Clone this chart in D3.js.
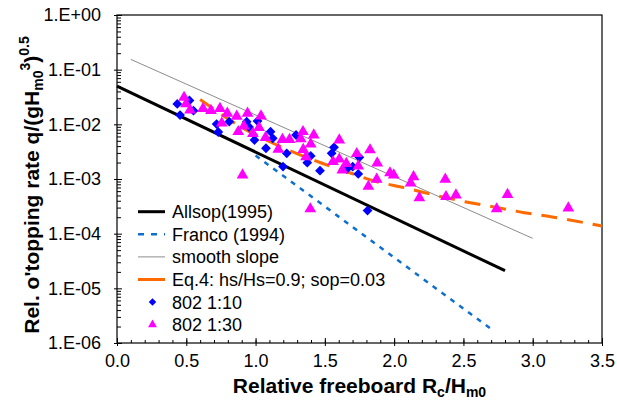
<!DOCTYPE html>
<html>
<head>
<meta charset="utf-8">
<script src="https://cdn.jsdelivr.net/npm/d3@7"></script>
<style>
  html, body { margin: 0; padding: 0; background: #fff; }
  svg { display: block; font-family: "Liberation Sans", Arial, sans-serif; }
</style>
</head>
<body>
<svg id="chart" width="617" height="409"></svg>
<script>
// series
const allsopX = [0.0, 2.8];
const allsopQ = [0.05, 2.1e-5];
const francoX = [1.0, 2.7];
const francoQ = [2.7e-3, 1.8e-6];
const smoothX = [0.1, 3.0];
const smoothQ = [0.154, 8.2e-5];
const eq4X = [0.6, 0.9, 1.18, 1.48, 1.68, 1.85, 2.09, 2.31, 2.51, 2.73, 2.94, 3.15, 3.5];
const eq4Q = [0.0285, 0.0088, 0.0039, 0.00194, 0.0013, 0.00093, 0.00068, 0.000495, 0.000385, 0.000304, 0.000242, 0.0002, 0.000138];

const s10X = [0.435, 0.455, 0.523, 0.552, 0.719, 0.731, 0.81, 0.936, 0.953, 1.014, 0.992, 1.108, 1.124, 1.075,
  1.292, 1.225, 1.198, 1.398, 1.373, 1.465, 1.566, 1.549, 1.701, 1.749, 1.658, 1.741, 1.808];
const s10Q = [0.0236, 0.0148, 0.0273, 0.0178, 0.0101, 0.00724, 0.0112, 0.0112, 0.00894, 0.0115, 0.00517, 0.00733, 0.00555, 0.00365,
  0.00638, 0.00295, 0.00169, 0.00264, 0.00199, 0.00142, 0.0038, 0.00295, 0.00168, 0.00249, 0.00151, 0.00124, 0.000265];

const s30X = [0.484, 0.498, 0.527, 0.621, 0.678, 0.743, 0.796, 0.756, 0.864, 0.942, 1.039, 0.875, 0.916, 0.981,
  1.025, 1.072, 1.164, 1.194, 1.245, 0.906, 1.342, 1.42, 1.326, 1.398, 1.344, 1.364, 1.604, 1.559, 1.604, 1.655,
  1.626, 1.73, 1.741, 1.826, 1.878, 1.874, 1.814, 1.97, 1.997, 2.14, 2.119, 2.182, 2.369, 2.374, 2.446, 2.74,
  2.818, 3.257, 1.395];
const s30Q = [0.031, 0.0236, 0.0183, 0.0195, 0.0179, 0.0195, 0.0159, 0.0105, 0.014, 0.0159, 0.0142, 0.00733, 0.00933, 0.0068,
  0.00875, 0.00574, 0.00349, 0.00528, 0.00528, 0.00118, 0.00733, 0.00638, 0.00544, 0.00434, 0.00344, 0.00253, 0.00517, 0.00207, 0.0023, 0.00191,
  0.00146, 0.0029, 0.00173, 0.0034, 0.00196, 0.00099, 0.00073, 0.00129, 0.00118, 0.0011, 0.000845, 0.000453, 0.00099, 0.000475, 0.00051, 0.000283,
  0.00052, 0.000295, 0.000283];

const xTicks = [0, 0.5, 1, 1.5, 2, 2.5, 3, 3.5];
const yTicks = [1e-6, 1e-5, 1e-4, 1e-3, 1e-2, 1e-1, 1];

const legendItems = ["Allsop(1995)", "Franco (1994)", "smooth slope", "Eq.4: hs/Hs=0.9; sop=0.03", "802 1:10", "802 1:30"];

const svg = d3.select("#chart");
const plot = { left: 117, right: 602, top: 15, bottom: 343 };

const x = d3.scaleLinear().domain([0, 3.5]).range([plot.left, plot.right]);
const y = d3.scaleLog().domain([1e-6, 1]).range([plot.bottom, plot.top]);

const fmtExp = (v) => {
  const e = Math.round(Math.log10(v));
  return "1.E" + (e >= 0 ? "+" : "-") + String(Math.abs(e)).padStart(2, "0");
};

// minor ticks
const yMinor = [];
for (let e = -6; e < 0; e++) {
  for (let m = 2; m <= 9; m++) yMinor.push(m * Math.pow(10, e));
}
const xMinor = d3.range(0, 36).map((i) => i / 10);

svg.append("g")
  .attr("transform", `translate(${plot.left},0)`)
  .call(d3.axisLeft(y).tickValues(yMinor).tickSize(-4).tickFormat(""))
  .call((g) => g.select(".domain").remove());

svg.append("g")
  .attr("transform", `translate(${plot.left},0)`)
  .call(d3.axisLeft(y).tickValues(yTicks).tickSize(-5).tickFormat(""))
  .call((g) => g.select(".domain").remove());

svg.append("g")
  .attr("transform", `translate(${plot.left},0)`)
  .call(d3.axisLeft(y).tickValues(yTicks).tickSize(3).tickPadding(13).tickFormat(fmtExp))
  .call((g) => g.select(".domain").remove())
  .call((g) => g.selectAll("text").attr("font-size", 18).attr("fill", "#000").attr("font-family", "Liberation Sans, Arial, sans-serif"));

svg.append("g")
  .attr("transform", `translate(0,${plot.bottom})`)
  .call(d3.axisBottom(x).tickValues(xMinor).tickSize(-3).tickFormat(""))
  .call((g) => g.select(".domain").remove());

svg.append("g")
  .attr("transform", `translate(0,${plot.bottom})`)
  .call(d3.axisBottom(x).tickValues(xTicks).tickSize(-5).tickFormat(""))
  .call((g) => g.select(".domain").remove());

svg.append("g")
  .attr("transform", `translate(0,${plot.bottom})`)
  .call(d3.axisBottom(x).tickValues(xTicks).tickSize(3).tickPadding(8).tickFormat(d3.format(".1f")))
  .call((g) => g.select(".domain").remove())
  .call((g) => g.selectAll("text").attr("font-size", 18).attr("fill", "#000").attr("font-family", "Liberation Sans, Arial, sans-serif"));

svg.selectAll(".tick line").attr("stroke", "#000");

// frame
svg.append("rect")
  .attr("x", plot.left).attr("y", plot.top)
  .attr("width", plot.right - plot.left).attr("height", plot.bottom - plot.top)
  .attr("fill", "none").attr("stroke", "#000").attr("stroke-width", 1.2);

const line = d3.line().x((d) => x(d[0])).y((d) => y(d[1]));
const pairs = (xs, qs) => xs.map((v, i) => [v, qs[i]]);

const lines = svg.append("g");
lines.append("path").datum(pairs(smoothX, smoothQ))
  .attr("d", line).attr("fill", "none").attr("stroke", "#8c8c8c").attr("stroke-width", 1);
lines.append("path").datum(pairs(allsopX, allsopQ))
  .attr("d", line).attr("fill", "none").attr("stroke", "#000").attr("stroke-width", 3);
lines.append("path").datum(pairs(francoX, francoQ))
  .attr("d", line).attr("fill", "none").attr("stroke", "#0f6fd0").attr("stroke-width", 2.5)
  .attr("stroke-dasharray", "5,6");
lines.append("path").datum(pairs(eq4X, eq4Q))
  .attr("d", line.curve(d3.curveMonotoneX)).attr("fill", "none").attr("stroke", "#ff6a00").attr("stroke-width", 3)
  .attr("stroke-dasharray", "16,10");

const diamond = d3.symbol().type(d3.symbolSquare).size(48);
const triangle = d3.symbol().type(d3.symbolTriangle).size(60);

svg.append("g").selectAll("path")
  .data(pairs(s10X, s10Q))
  .join("path")
  .attr("d", diamond)
  .attr("transform", (d) => `translate(${x(d[0])},${y(d[1])}) rotate(45)`)
  .attr("fill", "#0000ff");

svg.append("g").selectAll("path")
  .data(pairs(s30X, s30Q))
  .join("path")
  .attr("d", triangle)
  .attr("transform", (d) => `translate(${x(d[0])},${y(d[1])})`)
  .attr("fill", "#ff00ff");

// legend
const legend = svg.append("g");
const rowY = (i) => 211.7 + i * 22.6;
legend.selectAll("text")
  .data(legendItems)
  .join("text")
  .attr("x", 172)
  .attr("y", (d, i) => rowY(i) + 6.5)
  .attr("font-size", 18)
  .text((d) => d);

const legendStyles = [
  { stroke: "#000", width: 3, dash: null },
  { stroke: "#0f6fd0", width: 2.5, dash: "6,7" },
  { stroke: "#8c8c8c", width: 1, dash: null },
  { stroke: "#ff6a00", width: 3, dash: null },
];
legendStyles.forEach((s, i) => {
  legend.append("line")
    .attr("x1", 138).attr("x2", 165)
    .attr("y1", rowY(i)).attr("y2", rowY(i))
    .attr("stroke", s.stroke).attr("stroke-width", s.width)
    .attr("stroke-dasharray", s.dash);
});
legend.append("path")
  .attr("d", d3.symbol().type(d3.symbolSquare).size(28)())
  .attr("transform", `translate(152.5,${rowY(4)}) rotate(45)`)
  .attr("fill", "#0000ff");
legend.append("path")
  .attr("d", d3.symbol().type(d3.symbolTriangle).size(34)())
  .attr("transform", `translate(152.5,${rowY(5)})`)
  .attr("fill", "#ff00ff");

// axis titles
const xTitle = svg.append("text")
  .attr("x", (plot.left + plot.right) / 2)
  .attr("y", 393)
  .attr("text-anchor", "middle")
  .attr("font-size", 21)
  .attr("font-weight", "bold");
xTitle.append("tspan").text("Relative freeboard R");
xTitle.append("tspan").attr("font-size", 14).attr("dy", 4).text("c");
xTitle.append("tspan").attr("dy", -4).text("/H");
xTitle.append("tspan").attr("font-size", 14).attr("dy", 4).text("m0");

const yTitle = svg.append("text")
  .attr("transform", "translate(39,185) rotate(-90)")
  .attr("text-anchor", "middle")
  .attr("font-size", 21)
  .attr("font-weight", "bold");
yTitle.append("tspan").text("Rel. o'topping rate q/(gH");
yTitle.append("tspan").attr("font-size", 14).attr("dy", 4).text("m0");
yTitle.append("tspan").attr("font-size", 14).attr("dy", -13).text("3");
yTitle.append("tspan").attr("dy", 9).text(")");
yTitle.append("tspan").attr("font-size", 14).attr("dy", -10).text("0.5");
</script>
</body>
</html>
